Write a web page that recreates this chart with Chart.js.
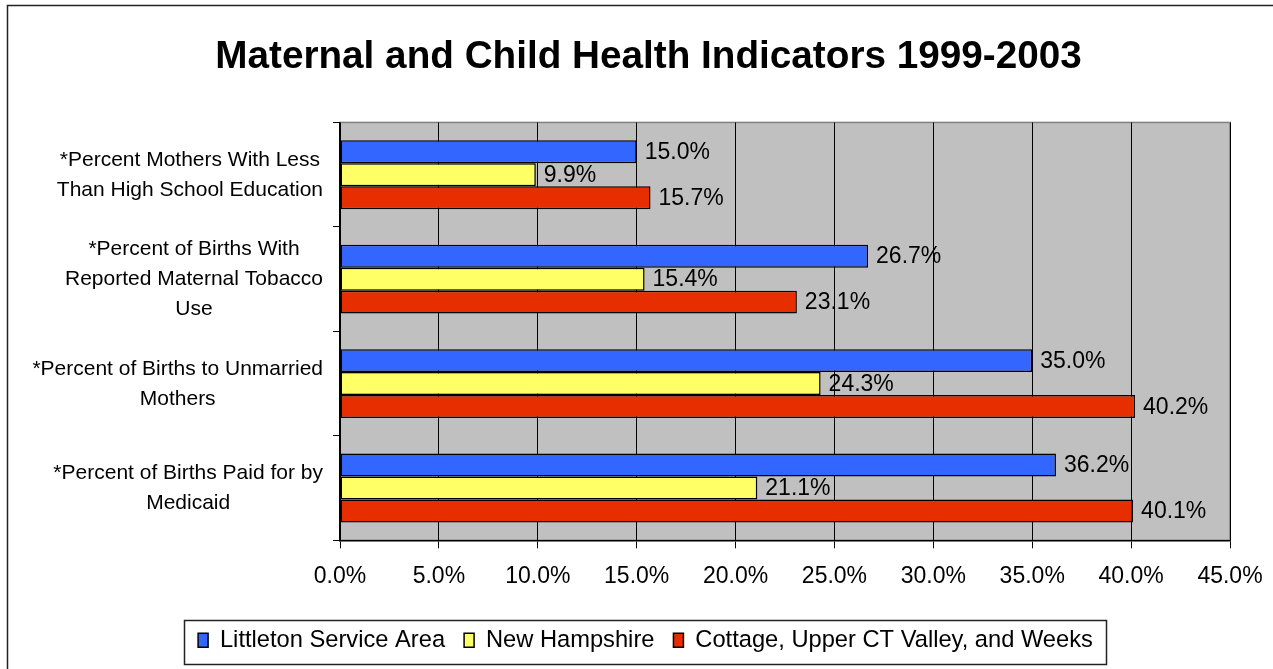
<!DOCTYPE html>
<html>
<head>
<meta charset="utf-8">
<script src="https://cdn.jsdelivr.net/npm/chart.js@4.4.0/dist/chart.umd.min.js"></script>
<style>
  html, body { margin: 0; padding: 0; background: #fff; }
  canvas { display: block; }
</style>
</head>
<body>
<canvas id="mchChart" width="1273" height="669"></canvas>
<script>
// data
const categories = [
  ['*Percent Mothers With Less', 'Than High School Education'],
  ['*Percent of Births With', 'Reported Maternal Tobacco', 'Use'],
  ['*Percent of Births to Unmarried', 'Mothers'],
  ['*Percent of Births Paid for by', 'Medicaid']
];
const seriesNames = ['Littleton Service Area', 'New Hampshire', 'Cottage, Upper CT Valley, and Weeks'];
const littleton = [15.0, 26.7, 35.0, 36.2];
const newHampshire = [9.9, 15.4, 24.3, 21.1];
const cottage = [15.7, 23.1, 40.2, 40.1];
const xTicks = [0, 5, 10, 15, 20, 25, 30, 35, 40, 45];

const FONT = "'Liberation Sans', Arial, sans-serif";
const colors = ['#3366FF', '#FFFF66', '#E62E00'];

// gray plot area + outer frame
const plotBg = {
  id: 'plotBg',
  beforeDraw(chart) {
    const ctx = chart.ctx, a = chart.chartArea;
    ctx.save();
    ctx.strokeStyle = '#222';
    ctx.lineWidth = 1.5;
    ctx.strokeRect(7.5, 5.5, 1400, 1000);
    ctx.fillStyle = '#C0C0C0';
    ctx.fillRect(a.left, a.top, a.right - a.left, a.bottom - a.top);
    ctx.strokeStyle = '#808080';
    ctx.lineWidth = 1.5;
    ctx.strokeRect(a.left, a.top, a.right - a.left, a.bottom - a.top);
    ctx.restore();
  }
};

// value labels at bar ends
const barLabels = {
  id: 'barLabels',
  afterDatasetsDraw(chart) {
    const ctx = chart.ctx;
    ctx.save();
    ctx.font = '23px ' + FONT;
    ctx.fillStyle = '#000';
    ctx.textAlign = 'left';
    ctx.textBaseline = 'middle';
    chart.data.datasets.forEach((ds, i) => {
      chart.getDatasetMeta(i).data.forEach((bar, j) => {
        ctx.fillText(ds.data[j].toFixed(1) + '%', bar.x + 8, bar.y + 1);
      });
    });
    ctx.restore();
  }
};

// category labels: each block centred on its own longest line, right edge at the axis
const categoryLabels = {
  id: 'categoryLabels',
  afterDraw(chart) {
    const ctx = chart.ctx, y = chart.scales.y;
    const rightEdge = y.right - 7 - 10;
    const lineH = 30;
    ctx.save();
    ctx.font = '21px ' + FONT;
    ctx.fillStyle = '#000';
    ctx.textAlign = 'center';
    ctx.textBaseline = 'middle';
    categories.forEach((lines, i) => {
      const w = Math.max(...lines.map(t => ctx.measureText(t).width));
      const cx = rightEdge - w / 2;
      const cy = y.getPixelForTick(i);
      lines.forEach((t, k) => {
        ctx.fillText(t, cx, cy + (k - (lines.length - 1) / 2) * lineH + 0.5);
      });
    });
    ctx.restore();
  }
};

// title and legend are centred a bit right of the canvas middle in the original
const shiftBlocks = {
  id: 'shiftBlocks',
  afterLayout(chart) {
    chart.titleBlock.left += 52;
    chart.legend.left += 46;
  }
};

// box round the legend
const legendBox = {
  id: 'legendBox',
  afterDraw(chart) {
    const lg = chart.legend;
    const pad = lg.options.labels.padding;
    const mid = (lg.left + lg.right) / 2;
    const half = (lg.lineWidths[0] - pad) / 2;
    const left = Math.round(mid - half - 14);
    const right = Math.round(mid + half + 13);
    const ctx = chart.ctx;
    ctx.save();
    ctx.strokeStyle = '#222';
    ctx.lineWidth = 1.5;
    ctx.strokeRect(left + 0.5, 620.5, right - left, 44);
    ctx.restore();
  }
};

const ctx = document.getElementById('mchChart').getContext('2d');
new Chart(ctx, {
  type: 'bar',
  data: {
    labels: categories,
    datasets: [
      { label: seriesNames[0], data: littleton, backgroundColor: colors[0] },
      { label: seriesNames[1], data: newHampshire, backgroundColor: colors[1] },
      { label: seriesNames[2], data: cottage, backgroundColor: colors[2] }
    ].map(d => Object.assign(d, {
      borderColor: '#000',
      borderWidth: 1.5,
      borderSkipped: false,
      categoryPercentage: 0.66,
      barPercentage: 1.0
    }))
  },
  options: {
    indexAxis: 'y',
    responsive: false,
    animation: false,
    devicePixelRatio: 1,
    layout: { padding: { left: 15, right: 43, top: 34, bottom: 7 } },
    scales: {
      x: {
        min: 0,
        max: 45,
        afterBuildTicks: s => { s.ticks = xTicks.map(v => ({ value: v })); },
        afterFit: s => { s.height = 69; s.paddingLeft = 0; s.paddingRight = 0; },
        grid: { color: '#000', lineWidth: 1, tickLength: 8, tickColor: '#000' },
        border: { color: '#000', width: 1.5 },
        ticks: {
          color: '#000',
          padding: 15,
          font: { family: FONT, size: 23 },
          callback: v => Number(v).toFixed(1) + '%'
        }
      },
      y: {
        afterFit: s => { s.width = 340 - 15; },
        grid: { drawOnChartArea: false, tickLength: 7, color: '#000' },
        border: { color: '#000', width: 1.5 },
        ticks: { display: false }
      }
    },
    plugins: {
      title: {
        display: true,
        text: 'Maternal and Child Health Indicators 1999-2003',
        color: '#000',
        font: { family: FONT, size: 38.7, weight: 'bold', lineHeight: 1.2 },
        padding: { top: 0, bottom: 42 }
      },
      legend: {
        position: 'bottom',
        labels: {
          color: '#000',
          font: { family: FONT, size: 23.7 },
          boxWidth: 10,
          boxHeight: 14,
          padding: 19
        }
      },
      tooltip: { enabled: false }
    }
  },
  plugins: [plotBg, barLabels, categoryLabels, shiftBlocks, legendBox]
});
</script>
</body>
</html>
